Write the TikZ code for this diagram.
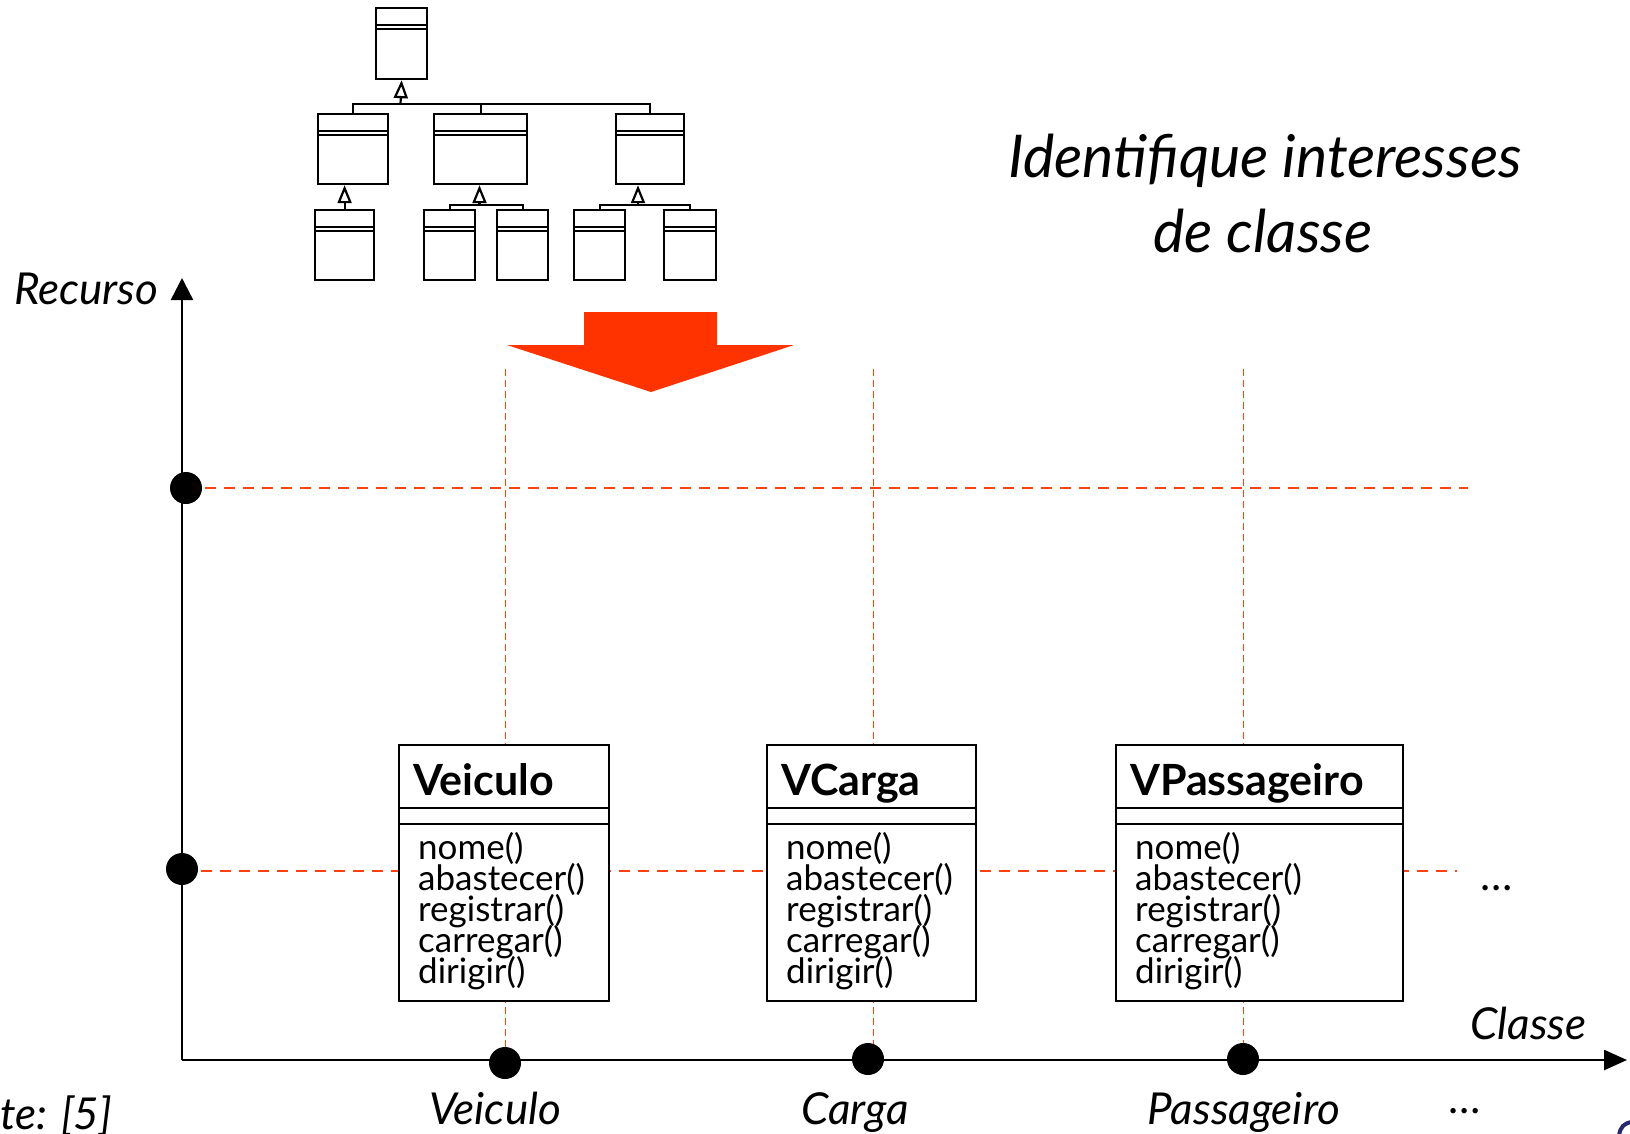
\documentclass[tikz,border=0pt]{standalone}
\usepackage{fontspec}
\setmainfont{Lato}
\usetikzlibrary{arrows.meta,calc}
\definecolor{accent}{RGB}{255,51,0}
\definecolor{guide}{RGB}{255,64,16}
\definecolor{navy}{RGB}{40,40,110}

% UML class box: name, x, y (top-left), width, title
\newcommand\umlclass[5]{%
  \node[umlbox, minimum width=#4pt, minimum height=256pt] (#1) at (#2,#3) {};
  \draw[line width=2pt] ($(#1.north west)+(0,64)$) -- ($(#1.north east)+(0,64)$);
  \draw[line width=2pt] ($(#1.north west)+(0,80)$) -- ($(#1.north east)+(0,80)$);
  \node[classtitle] (#1-title) at ($(#1.north west)+(15,51)$) {#5};
  \foreach \m [count=\i] in {nome(),abastecer(),registrar(),carregar(),dirigir()}
    \node[method] (#1-m\i) at ($(#1.north west)+(20,84+31*\i)$) {\m};
}

\begin{document}
\begin{tikzpicture}[x=1pt,y=-1pt,
  minibox/.style={draw, line width=2.2pt, fill=white, inner sep=0pt, anchor=north west},
  tree/.style={line width=2.2pt},
  gen/.style={line width=2.2pt, -{Triangle[open,length=18pt,width=14pt,fill=white]}},
  umlbox/.style={draw, line width=2pt, fill=white, inner sep=0pt, anchor=north west},
  classtitle/.style={anchor=base west, inner sep=0pt, font=\fontsize{43}{50}\selectfont\bfseries},
  method/.style={anchor=base west, inner sep=0pt, font=\fontsize{35}{31}\selectfont},
  guideH/.style={guide, line width=2.5pt, dash pattern=on 11pt off 8pt},
  guideV/.style={guide, line width=1pt, dash pattern=on 7pt off 4pt},
  axis/.style={line width=2.5pt},
  markdot/.style={circle, fill=black, inner sep=0pt, minimum size=32pt},
  axislabel/.style={inner sep=0pt, font=\fontsize{44}{52}\selectfont\itshape},
  heading/.style={inner sep=0pt, anchor=base, font=\fontsize{59}{75}\selectfont\itshape},
  ellipsis/.style={inner sep=0pt, anchor=base, font=\fontsize{43}{50}\selectfont},
]
\useasboundingbox (0,0) rectangle (1630,1133);
\clip (0,0) rectangle (1630,1133);

% ---- small class hierarchy ----
\node[minibox, minimum width=51pt, minimum height=71pt] (t0) at (375,7) {};
\node[minibox, minimum width=70pt, minimum height=70pt] (a) at (317,113) {};
\node[minibox, minimum width=93pt, minimum height=70pt] (b) at (433,113) {};
\node[minibox, minimum width=68pt, minimum height=70pt] (c) at (615,113) {};
\node[minibox, minimum width=59pt, minimum height=70pt] (a1) at (314,209) {};
\node[minibox, minimum width=51pt, minimum height=70pt] (b1) at (423,209) {};
\node[minibox, minimum width=51pt, minimum height=70pt] (b2) at (496,209) {};
\node[minibox, minimum width=51pt, minimum height=70pt] (c1) at (573,209) {};
\node[minibox, minimum width=52pt, minimum height=70pt] (c2) at (663,209) {};
\foreach \n in {t0,a,b,c,a1,b1,b2,c1,c2} {
  \draw[tree] ($(\n.north west)+(0,18)$) -- ($(\n.north east)+(0,18)$);
  \draw[tree] ($(\n.north west)+(0,22)$) -- ($(\n.north east)+(0,22)$);
}
\coordinate (j0) at (400.5,104);
\draw[tree] (a.north) -- (a.north |- j0) -| (c.north);
\draw[tree] (b.north) -- (b.north |- j0);
\draw[gen] (j0) -- (t0.south);
\draw[gen] (a1.north) -- (a1.north |- a.south);
\coordinate (jb) at (479.5,205);
\draw[tree] (b1.north) -- (b1.north |- jb) -| (b2.north);
\draw[gen] (jb) -- (jb |- b.south);
\coordinate (jc) at (638,205);
\draw[tree] (c1.north) -- (c1.north |- jc) -| (c2.north);
\draw[gen] (jc) -- (jc |- c.south);

% ---- big downward arrow ----
\fill[accent] (584,312) -- (717,312) -- (717,345) -- (794,345) -- (651,392)
  -- (507,345) -- (584,345) -- cycle;

% ---- heading ----
\node[heading] (head1) at (1265,177) {Identifique interesses};
\node[heading] (head2) at (1263,252) {de classe};

% ---- guide lines ----
\coordinate (gv1) at (505,369);  \coordinate (gv1b) at (505,1060);
\coordinate (gv2) at (873,369);  \coordinate (gv2b) at (873,1060);
\coordinate (gv3) at (1243,369); \coordinate (gv3b) at (1243,1060);
\draw[guideV] (gv1) -- (gv1b);
\draw[guideV] (gv2) -- (gv2b);
\draw[guideV] (gv3) -- (gv3b);
\coordinate (gh1) at (186,488); \coordinate (gh1b) at (1468,488);
\coordinate (gh2) at (182,871); \coordinate (gh2b) at (1457,871);
\draw[guideH] (gh1) -- (gh1b);
\draw[guideH] (gh2) -- (gh2b);

% ---- classes ----
\umlclass{veiculo}{398}{744}{210}{Veiculo}
\umlclass{vcarga}{766}{744}{209}{VCarga}
\umlclass{vpass}{1115}{744}{287}{VPassageiro}

% ---- axes ----
\coordinate (origin) at (182,1060);
\coordinate (ytop) at (182,278);
\coordinate (xend) at (1627,1060);
\draw[axis, -{Triangle[length=22pt,width=22pt]}] (origin) -- (ytop);
\draw[axis, -{Triangle[length=23pt,width=20pt]}] (origin) -- (xend);

\node[markdot] (r1) at (186,488) {};
\node[markdot] (r2) at (182,869) {};
\node[markdot] (x1) at (505,1063) {};
\node[markdot] (x2) at (868,1059) {};
\node[markdot] (x3) at (1243,1059) {};

% ---- labels ----
\node[axislabel, anchor=base west] (lrec) at (14,304) {Recurso};
\node[axislabel, anchor=base west] (lcls) at (1470,1039) {Classe};
\node[axislabel, anchor=base] (lv) at (495,1124) {Veiculo};
\node[axislabel, anchor=base] (lc) at (855,1124) {Carga};
\node[axislabel, anchor=base] (lp) at (1244,1124) {Passageiro};
\node[ellipsis] (dots1) at (1497,890) {…};
\node[ellipsis] (dots2) at (1465,1113) {…};
\node[axislabel, anchor=base west] (src) at (0,1129) {te: [5]};

% corner fragment
\draw[navy, line width=4pt] (1619,1136) .. controls (1620,1127) and (1624,1123) .. (1632,1122);
\end{tikzpicture}
\end{document}
